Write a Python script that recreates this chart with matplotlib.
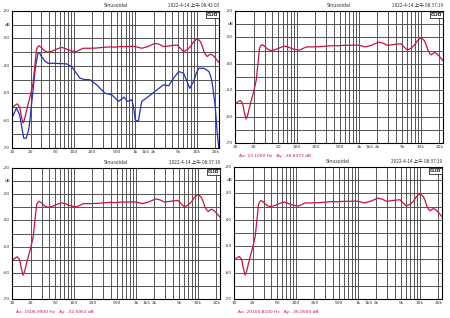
import matplotlib
matplotlib.use("Agg")
import matplotlib.pyplot as plt
from matplotlib.ticker import FixedLocator, NullFormatter

plt.rcParams['font.family'] = ['DejaVu Sans', 'Noto Sans CJK SC']

# ---- data ----
red_freq = [10, 11, 12.1, 13.3, 14.2, 15.1, 16, 17.1, 18.5, 20, 22, 23.5, 24.9, 26, 27.5,
            29.5, 32, 35, 38.6, 44, 50, 56, 63.7, 72, 81.7, 95, 111, 125, 143, 180, 237,
            300, 390, 470, 570, 700, 940, 1100, 1280, 1600, 2100, 2500, 2900, 3400, 3950,
            4800, 5400, 6100, 6900, 7900, 8900, 9900, 10700, 11500, 12300, 13100, 14000,
            14800, 15800, 16800, 18500, 20100, 22800]
red_db = [-55.4, -54.5, -53.9, -55.0, -58.5, -60.9, -59.5, -56.6, -53.5, -50.6, -46.3,
          -40.0, -34.2, -33.2, -32.7, -33.2, -34.0, -34.7, -35.0, -34.7, -34.2, -33.7,
          -33.3, -33.6, -34.2, -34.6, -34.8, -34.2, -33.6, -33.6, -33.5, -33.3, -33.1,
          -33.2, -33.0, -33.0, -32.9, -33.2, -33.6, -33.0, -31.8, -32.2, -33.0, -32.8,
          -32.6, -32.4, -33.6, -34.8, -34.2, -33.0, -31.2, -30.3, -30.5, -31.2, -32.8,
          -34.8, -36.0, -36.6, -36.1, -35.7, -36.3, -37.2, -38.7]

blue_freq = [10, 11.8, 13.3, 15.5, 17.1, 18.9, 22, 24, 26.5, 28, 30, 34, 38.6, 50, 77, 93,
             110, 127, 150, 185, 237, 280, 323, 418, 480, 535, 600, 660, 750, 885, 950,
             1000, 1130, 1200, 1280, 1650, 2250, 2900, 3500, 4200, 5100, 6100, 6900, 7700,
             8900, 9800, 10800, 13100, 15800, 17200, 18200, 20000, 21500, 22800]
blue_db = [-59.1, -55.4, -57.9, -66.4, -66.4, -62.7, -48.8, -40.5, -35.2, -35.3, -36.6,
           -38.2, -39.1, -39.1, -39.3, -40.3, -42.6, -44.5, -45.0, -45.1, -46.9, -48.6,
           -50.0, -50.6, -51.9, -53.0, -52.2, -51.4, -53.0, -52.4, -55.5, -59.7, -60.3,
           -56.5, -53.0, -51.2, -48.8, -46.9, -47.3, -44.5, -42.1, -42.7, -45.5, -48.2,
           -45.7, -42.8, -40.9, -40.9, -42.1, -44.5, -47.6, -55.0, -64.5, -70.0]

xtick_vals = [10, 20, 50, 100, 200, 500, 1000, 1500, 2000, 5000, 10000, 20000]
xtick_labels = ['10', '20', '50', '100', '200', '500', '1k', '1k5', '2k', '5k', '10k', '20k']
ytick_vals = [-20, -25, -30, -40, -50, -60, -70]
ytick_labels = ['-20', 'dB', '-30', '-40', '-50', '-60', '-70']

dates = ['2022-4-14 上午 08:42:03', '2022-4-14 上午 08:37:19',
         '2022-4-14 上午 08:37:19', '2022-4-14 上午 08:37:19']
cursors = [None, 'Ax: 23.1000 Hz   Ay: -36.8373 dB',
           'Ax: 1506.9900 Hz   Ay: -32.5963 dB',
           'Ax: 20105.8100 Hz   Ay: -36.0560 dB']

W, H = 450, 318
fig = plt.figure(figsize=(W / 100, H / 100), dpi=100)
fig.patch.set_facecolor('white')

# panel boxes in pixels: left, top, right, bottom
boxes = [(12, 11, 219, 148), (235, 11, 443, 143), (12, 168, 220, 299), (234, 167, 442, 299)]

minor = []
for dec in [10, 100, 1000, 10000]:
    for m in range(1, 10):
        v = dec * m
        if 10 <= v <= 23000:
            minor.append(v)

RED = '#c8143c'
BLUE = '#2030c0'

for i, (l, t, r, b) in enumerate(boxes):
    ax = fig.add_axes([l / W, 1 - b / H, (r - l) / W, (b - t) / H])
    ax.set_xscale('log')
    ax.set_xlim(10, 23000)
    ax.set_ylim(-70, -20)
    ax.xaxis.set_major_locator(FixedLocator(minor))
    ax.xaxis.set_minor_locator(FixedLocator([]))
    ax.xaxis.set_major_formatter(NullFormatter())
    ax.xaxis.set_minor_formatter(NullFormatter())
    ax.set_yticks(list(range(-70, -19, 5)))
    ax.set_yticklabels([])
    ax.grid(True, which='major', color='#4a4a4a', lw=0.65)
    ax.tick_params(length=0)
    for s in ax.spines.values():
        s.set_color('black')
        s.set_linewidth(0.8)
    for v, lab in zip(xtick_vals, xtick_labels):
        ax.text(v, -70.8, lab, fontsize=3.2, ha='center', va='top', color='#333')
    for v, lab in zip(ytick_vals, ytick_labels):
        ax.text(9.4, v, lab, fontsize=3.2, ha='right', va='center', color='#333')
    if i == 0:
        ax.plot(blue_freq, blue_db, color=BLUE, lw=0.9)
    ax.plot(red_freq, red_db, color=RED, lw=0.9)
    ax.text(0.5, 1.02, 'Sinusoidal', transform=ax.transAxes, fontsize=3.4,
            ha='center', va='bottom', color='#333')
    ax.text(1.0, 1.02, dates[i], transform=ax.transAxes, fontsize=3.4,
            ha='right', va='bottom', color='#333',
            family=['Noto Sans CJK SC', 'DejaVu Sans'])
    ax.text(0.995, 0.985, 'CLIO', transform=ax.transAxes, fontsize=3.2,
            ha='right', va='top', color='black', fontweight='bold',
            bbox=dict(boxstyle='square,pad=0.15', fc='white', ec='black', lw=0.5))
    if cursors[i]:
        ax.text(0.02, -0.085, cursors[i], transform=ax.transAxes, fontsize=3.2,
                ha='left', va='top', color=RED)

fig.savefig('out.png', dpi=100, facecolor='white')
